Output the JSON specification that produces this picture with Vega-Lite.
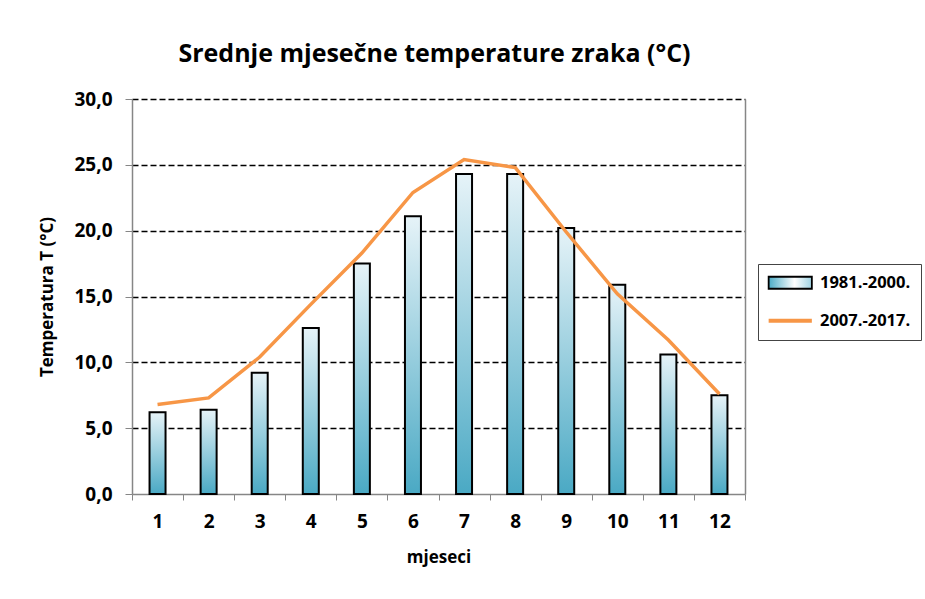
{
  "$schema": "https://vega.github.io/schema/vega-lite/v6.json",
  "width": 613,
  "height": 395,
  "autosize": {"type": "none"},
  "padding": {"left": 132, "top": 99, "right": 180, "bottom": 105},
  "background": "white",
  "title": {
    "text": "Srednje mjesečne temperature zraka (°C)",
    "font": "Open Sans",
    "fontSize": 25,
    "fontWeight": "bold",
    "color": "black",
    "anchor": "middle",
    "frame": "group",
    "offset": 23,
    "dx": -4
  },
  "config": {
    "locale": {"number": {"decimal": ",", "thousands": ".", "grouping": [3], "currency": ["", " €"]}},
    "view": {"stroke": null},
    "font": "Open Sans",
    "axis": {"labelFont": "Open Sans", "titleFont": "Open Sans", "labelColor": "black", "titleColor": "black"}
  },
  "data": {
    "values": [
      {"mjesec": 1, "serija": "1981.-2000.", "T": 6.2},
      {"mjesec": 2, "serija": "1981.-2000.", "T": 6.4},
      {"mjesec": 3, "serija": "1981.-2000.", "T": 9.2},
      {"mjesec": 4, "serija": "1981.-2000.", "T": 12.6},
      {"mjesec": 5, "serija": "1981.-2000.", "T": 17.5},
      {"mjesec": 6, "serija": "1981.-2000.", "T": 21.1},
      {"mjesec": 7, "serija": "1981.-2000.", "T": 24.3},
      {"mjesec": 8, "serija": "1981.-2000.", "T": 24.3},
      {"mjesec": 9, "serija": "1981.-2000.", "T": 20.2},
      {"mjesec": 10, "serija": "1981.-2000.", "T": 15.9},
      {"mjesec": 11, "serija": "1981.-2000.", "T": 10.6},
      {"mjesec": 12, "serija": "1981.-2000.", "T": 7.5},
      {"mjesec": 1, "serija": "2007.-2017.", "T": 6.8},
      {"mjesec": 2, "serija": "2007.-2017.", "T": 7.3},
      {"mjesec": 3, "serija": "2007.-2017.", "T": 10.4},
      {"mjesec": 4, "serija": "2007.-2017.", "T": 14.4},
      {"mjesec": 5, "serija": "2007.-2017.", "T": 18.3},
      {"mjesec": 6, "serija": "2007.-2017.", "T": 22.9},
      {"mjesec": 7, "serija": "2007.-2017.", "T": 25.4},
      {"mjesec": 8, "serija": "2007.-2017.", "T": 24.8},
      {"mjesec": 9, "serija": "2007.-2017.", "T": 19.9},
      {"mjesec": 10, "serija": "2007.-2017.", "T": 15.2},
      {"mjesec": 11, "serija": "2007.-2017.", "T": 11.7},
      {"mjesec": 12, "serija": "2007.-2017.", "T": 7.6}
    ]
  },
  "encoding": {
    "x": {
      "field": "mjesec",
      "type": "ordinal",
      "scale": {"paddingInner": 0, "paddingOuter": 0},
      "axis": {
        "title": "mjeseci",
        "titleFontSize": 17,
        "titleFontWeight": "bold",
        "titlePadding": 18,
        "labelFontSize": 19,
        "labelFontWeight": "bold",
        "labelAngle": 0,
        "labelPadding": 12,
        "tickBand": "extent",
        "tickSize": 6,
        "tickColor": "#868686",
        "domainColor": "#868686",
        "domainWidth": 1.5,
        "grid": false
      }
    }
  },
  "layer": [
    {
      "transform": [{"filter": "datum.serija === '1981.-2000.'"}],
      "mark": {
        "type": "bar",
        "size": 16,
        "stroke": "black",
        "strokeWidth": 2,
        "fill": {
          "gradient": "linear",
          "x1": 0, "y1": 0, "x2": 0, "y2": 1,
          "stops": [
            {"offset": 0, "color": "#e6f3f8"},
            {"offset": 1, "color": "#4aa9c4"}
          ]
        }
      },
      "encoding": {
        "y": {
          "field": "T",
          "type": "quantitative",
          "scale": {"domain": [0, 30]},
          "axis": {
            "title": "Temperatura T (°C)",
            "titleFontSize": 17,
            "titleFontWeight": "bold",
            "titlePadding": 17,
            "values": [0, 5, 10, 15, 20, 25, 30],
            "format": ".1f",
            "labelFontSize": 19,
            "labelFontWeight": "bold",
            "labelPadding": 13,
            "tickSize": 7,
            "tickColor": "#868686",
            "domainColor": "#868686",
            "domainWidth": 1.5,
            "grid": true,
            "gridColor": {"condition": {"test": "datum.value === 0", "value": null}, "value": "black"},
            "gridDash": [6, 3],
            "gridWidth": 1.6,
            "gridOpacity": 1
          }
        }
      }
    },
    {
      "transform": [{"filter": "datum.serija === '2007.-2017.'"}],
      "mark": {"type": "line", "strokeWidth": 3.5},
      "encoding": {
        "y": {
          "field": "T",
          "type": "quantitative",
          "scale": {"domain": [0, 30]},
          "axis": {
            "orient": "right",
            "title": null,
            "labels": false,
            "ticks": false,
            "grid": false,
            "domainColor": "#868686",
            "domainWidth": 1.5
          }
        },
        "color": {
          "field": "serija",
          "type": "nominal",
          "scale": {"domain": ["1981.-2000.", "2007.-2017."], "range": ["#000000", "#f79646"]},
          "legend": {
            "title": null,
            "orient": "none",
            "legendX": 626,
            "legendY": 165,
            "padding": 10.5,
            "strokeColor": "#444444",
            "fillColor": "white",
            "symbolSize": 576,
            "symbolOffset": 13.5,
            "labelOffset": 21.5,
            "labelFontSize": 16.5,
            "labelFontWeight": "bold",
            "labelColor": "black",
            "labelFont": "Open Sans",
            "rowPadding": 20,
            "symbolOpacity": 1,
            "encode": {
              "symbols": {
                "update": {
                  "shape": {"signal": "datum.value === '1981.-2000.' ? 'M-1.8,-0.5H1.8V0.5H-1.8Z' : 'M-1.8,0H1.8'"},
                  "fill": {"signal": "datum.value === '1981.-2000.' ? {gradient: 'linear', x1: 0, y1: 0, x2: 1, y2: 0, stops: [{offset: 0, color: '#4bacc6'}, {offset: 0.6, color: '#ffffff'}, {offset: 1, color: '#9fd3e3'}]} : 'transparent'"},
                  "stroke": {"signal": "datum.value === '1981.-2000.' ? 'black' : '#f79646'"},
                  "strokeWidth": {"signal": "datum.value === '1981.-2000.' ? 1.8 : 4"},
                  "opacity": {"value": 1}
                }
              }
            }
          }
        }
      }
    }
  ],
  "resolve": {"axis": {"y": "independent"}}
}
